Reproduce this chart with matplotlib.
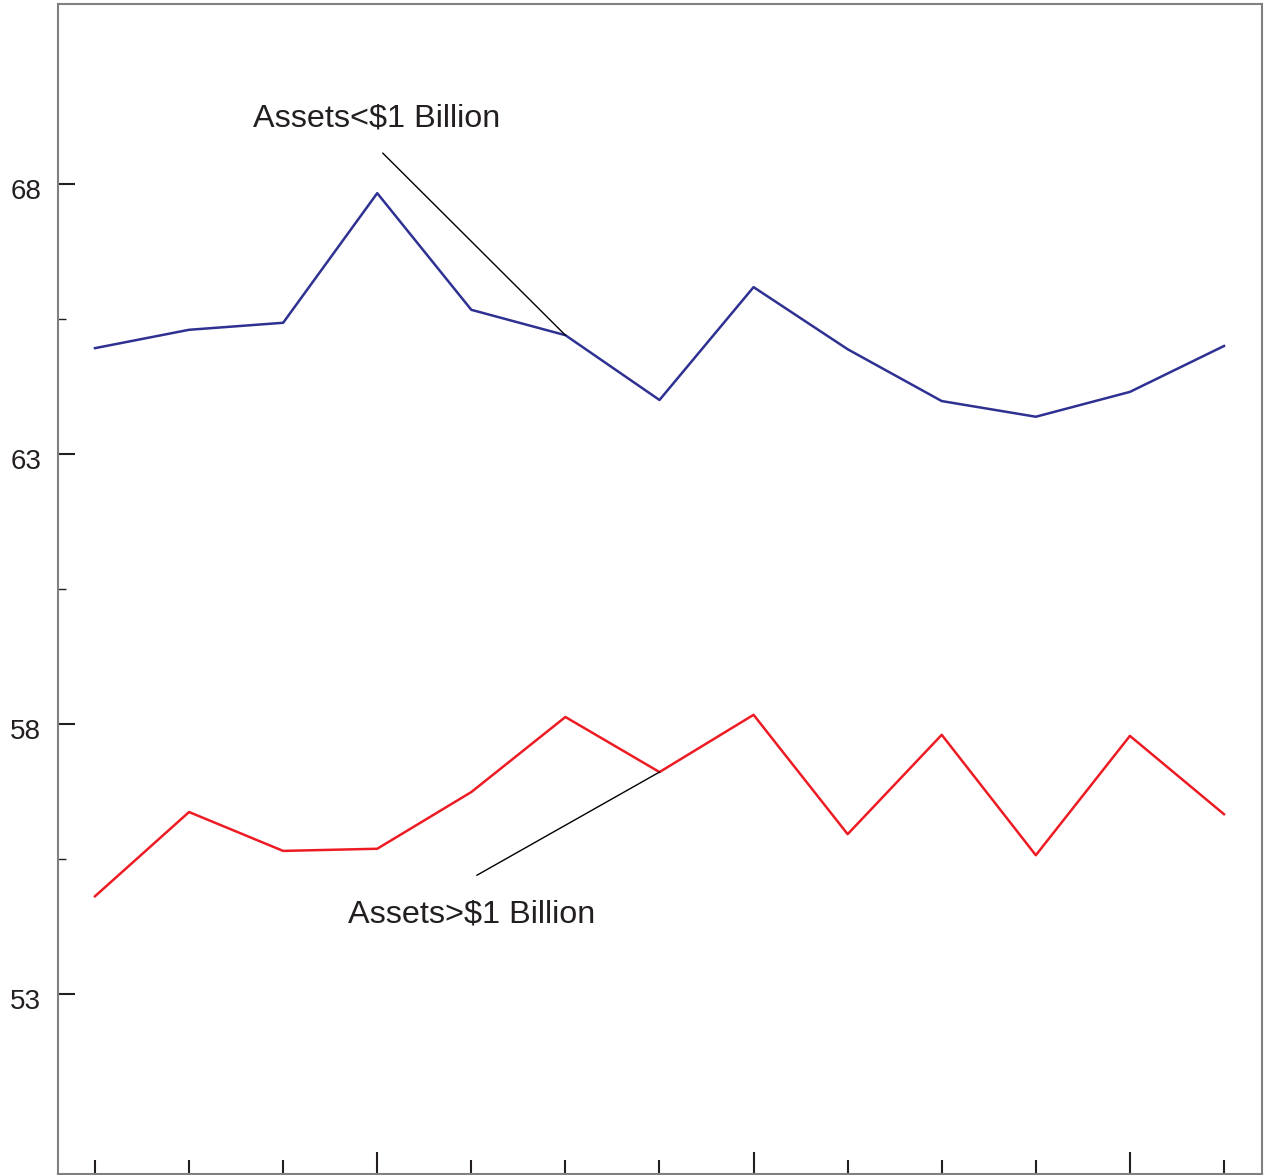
import matplotlib.pyplot as plt
import matplotlib.transforms as mtransforms

plt.rcParams['font.family'] = ['Liberation Sans', 'DejaVu Sans']

# data
periods = list(range(13))
small_assets = [64.96, 65.30, 65.43, 67.83, 65.67, 65.20, 64.00,
                66.09, 64.94, 63.98, 63.69, 64.15, 65.00]
large_assets = [54.81, 56.37, 55.65, 55.69, 56.74, 58.13, 57.11,
                58.17, 55.96, 57.80, 55.57, 57.78, 56.33]
y_ticks = [53, 58, 63, 68]
y_minor = [55.5, 60.5, 65.5]

fig = plt.figure(figsize=(12.72, 11.75), dpi=100)
ax = fig.add_axes([58 / 1272, 1 / 1175, 1204 / 1272, 1170 / 1175])

ax.plot(periods, small_assets, color='#2e3192', lw=1.8)
ax.plot(periods, large_assets, color='#ed1c24', lw=1.8)

# labels with leader lines
ax.plot([3.06, periods[5]], [68.57, small_assets[5]], color='black', lw=1)
ax.text(2.99, 69.22, 'Assets<$1 Billion', fontsize=23.3, color='#231f20',
        ha='center', va='center')
ax.plot([4.06, periods[6]], [55.2, large_assets[6]], color='black', lw=1)
ax.text(4.0, 54.47, 'Assets>$1 Billion', fontsize=23.3, color='#231f20',
        ha='center', va='center')

ax.set_xlim(-0.393, 12.404)
ax.set_ylim(49.667, 71.333)

ax.set_yticks(y_ticks)
ax.set_yticks(y_minor, minor=True)
ax.tick_params(axis='y', which='major', direction='in', length=12, width=1.5,
               labelsize=20, pad=12, color='#231f20', labelcolor='#231f20')
ax.tick_params(axis='y', which='minor', direction='in', length=6, width=1,
               color='#231f20')
shift = mtransforms.ScaledTranslation(0, -5 / 100, fig.dpi_scale_trans)
for lbl in ax.get_yticklabels():
    lbl.set_transform(lbl.get_transform() + shift)

ax.set_xticks([p for p in periods if p % 4 != 3])
ax.set_xticks([p for p in periods if p % 4 == 3], minor=True)
ax.tick_params(axis='x', which='major', direction='in', length=10, width=1.5,
               labelbottom=False, color='#231f20')
ax.tick_params(axis='x', which='minor', direction='in', length=16, width=1.5,
               color='#231f20')

for s in ax.spines.values():
    s.set_color('#808080')
    s.set_linewidth(1.5)

fig.savefig('out.png', dpi=100)
